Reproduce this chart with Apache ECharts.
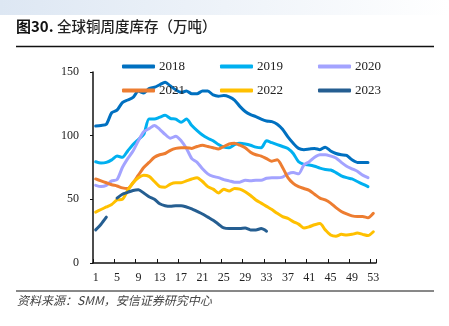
<!DOCTYPE html>
<html>
<head>
<meta charset="utf-8">
<script src="https://cdn.jsdelivr.net/npm/echarts@6/dist/echarts.min.js"></script>
<style>
  html, body { margin: 0; padding: 0; background: #fff; }
  #chart { width: 449px; height: 326px; }
</style>
</head>
<body>
<div id="chart"></div>
<script>
// Weeks 1..53 on the category axis
const weeks = Array.from({ length: 53 }, (_, i) => String(i + 1));

// Weekly global copper inventory, 10k tonnes
const y2018 = [107.5, 108, 109, 118, 120, 126, 128, 130, 135, 133.5, 137, 138, 140, 142, 139, 136, 134, 135, 133, 133, 135, 135, 132, 131, 131.5, 130.5, 128, 123, 119, 116.5, 115, 113, 111.5, 111, 109, 105, 99, 94, 90, 89, 89.5, 90, 89, 91, 88, 86, 85, 84.5, 81, 79, 79, 79];
const y2019 = [79.5, 78.5, 79, 81, 84, 83, 88, 93, 97, 101, 113, 113, 114.5, 116, 113.5, 113, 110.5, 113, 108, 104, 100.5, 98, 96, 93, 91, 90.5, 93, 94, 93.5, 92.5, 91, 90.5, 96, 94.5, 93, 91.5, 90, 86, 79.5, 77.5, 77, 76, 74.5, 73.5, 73, 71, 68.5, 67, 66, 64, 62, 60];
const y2020 = [61, 60, 61, 64.5, 65.5, 75, 82, 88, 96, 103, 105.5, 108, 105, 101, 98, 99.5, 96, 90, 82, 79, 74, 70, 68, 67, 65.5, 64.5, 63.5, 63.5, 65, 64.5, 65, 65, 66.5, 67, 67, 67.5, 70, 71, 70, 77, 79.5, 83, 85, 85, 84, 82.5, 79, 76, 74, 72, 69, 67];
const y2021 = [66, 64.5, 63, 61.5, 60.5, 59, 58.5, 63, 69, 75, 79, 83, 85, 86, 88.5, 90, 90.5, 90.5, 90, 91.5, 92.5, 91.5, 90.5, 89.5, 91.5, 93.5, 94, 92.5, 90.5, 87, 85, 84, 82, 80, 81, 75, 67, 62.5, 60, 58.5, 57, 54, 51, 49.5, 47, 43.5, 40.5, 38.5, 37, 36.5, 36.5, 35.5, 39];
const y2022 = [40, 42, 44, 46, 49.5, 50, 57, 63, 67, 69, 68, 64, 60, 59.5, 62, 63, 63, 64.5, 66, 67, 64, 60, 58, 55, 58, 56.5, 58.5, 58, 56, 53, 49.5, 47, 44.5, 42, 39, 36.5, 35, 32.5, 30.5, 27.5, 28.5, 30, 31, 26, 22, 21, 22.5, 22, 22.5, 23.5, 22.5, 21.5, 24.5];
const y2023 = [26, 30.5, 36, null, 51, 54, 55.5, 57, 57.5, 55, 52, 50, 46.5, 45, 44.5, 45, 45, 44, 42.5, 40.5, 38.5, 36, 33.5, 30.5, 27.5, 27, 27, 27, 27.5, 26, 26, 27, 25];

const yearNames = ['2018', '2019', '2020', '2021', '2022', '2023'];
const yearData = [y2018, y2019, y2020, y2021, y2022, y2023];
const yearColors = ['#0070C0', '#00B0F0', '#A3A3FF', '#ED7D31', '#FFC000', '#255E91'];

const serif = '"Liberation Serif", "Times New Roman", serif';
const cjk = '"Noto Sans CJK SC", sans-serif';

const chart = echarts.init(document.getElementById('chart'), null, { renderer: 'canvas' });

const series = yearNames.map((name, i) => ({
  name,
  type: 'line',
  data: yearData[i],
  smooth: 0.25,
  showSymbol: false,
  connectNulls: false,
  lineStyle: { width: 3, color: yearColors[i], cap: 'round', join: 'round' },
  itemStyle: { color: yearColors[i] },
  emphasis: { disabled: true },
  z: 2 + i
}));

// Legend laid out as two rows of three
const legendCols = [117, 215, 313];
const legendRows = [55, 79];
const legends = yearNames.map((name, i) => ({
  data: [name],
  left: legendCols[i % 3],
  top: legendRows[Math.floor(i / 3)],
  icon: 'roundRect',
  itemWidth: 33,
  itemHeight: 4,
  itemGap: 4,
  textStyle: { fontFamily: serif, fontSize: 13, color: '#222', padding: [0, 0, 0, -1] },
  selectedMode: false
}));

chart.setOption({
  animation: false,
  backgroundColor: '#fff',
  graphic: [
    {
      type: 'rect',
      shape: { x: 0, y: 0, width: 449, height: 15 },
      style: {
        fill: new echarts.graphic.LinearGradient(0, 0, 1, 0, [
          { offset: 0, color: '#dde7f3' },
          { offset: 1, color: '#ffffff' }
        ])
      },
      silent: true
    },
    {
      type: 'text',
      left: 16,
      top: 19,
      style: {
        text: '{a|图30.} {b|全球铜周度库存（万吨）}',
        rich: {
          a: { font: 'bold 15px ' + cjk, fill: '#111', color: '#111' },
          b: { font: '500 14.5px ' + cjk, fill: '#222', color: '#222' }
        }
      }
    },
    {
      type: 'line',
      shape: { x1: 16, y1: 46.5, x2: 434, y2: 46.5 },
      style: { stroke: '#111', lineWidth: 1.5 }
    },
    {
      type: 'line',
      shape: { x1: 16, y1: 291, x2: 434, y2: 291 },
      style: { stroke: '#111', lineWidth: 1 }
    },
    {
      type: 'text',
      left: 17,
      top: 294,
      style: {
        text: '资料来源：SMM，安信证券研究中心',
        font: 'italic 12px ' + cjk,
        fill: '#444'
      }
    }
  ],
  legend: legends,
  grid: { left: 93, right: 73, top: 72, bottom: 63 },
  xAxis: {
    type: 'category',
    data: weeks,
    boundaryGap: true,
    axisLine: { lineStyle: { color: '#111', width: 1.5 } },
    axisTick: { show: true, interval: 3, inside: true, length: 4, lineStyle: { color: '#111', width: 1 } },
    axisLabel: { interval: 3, margin: 9, fontFamily: serif, fontSize: 12, color: '#222' },
    splitLine: { show: false }
  },
  yAxis: {
    type: 'value',
    min: 0,
    max: 150,
    interval: 50,
    axisLine: { show: true, lineStyle: { color: '#111', width: 1.5 } },
    axisTick: { show: true, length: 3, lineStyle: { color: '#111' } },
    axisLabel: { margin: 14, fontFamily: serif, fontSize: 12, color: '#222' },
    splitLine: { show: false }
  },
  series
});
</script>
</body>
</html>
